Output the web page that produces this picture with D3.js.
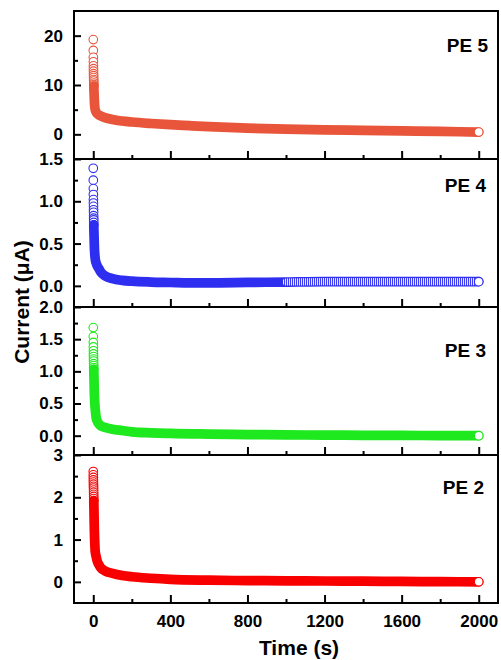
<!DOCTYPE html>
<html>
<head>
<meta charset="utf-8">
<script src="https://cdn.jsdelivr.net/npm/d3@7"></script>
<style>
    body { margin: 0; background: #fff; }
    svg { display: block; font-family: "Liberation Sans", Arial, sans-serif; font-weight: bold; }
</style>
</head>
<body>
<div id="chart"></div>
<script>
// DATA

// PE 5
const time_pe5 = [0, 0.2, 0.4, 0.6, 0.8, 1, 1.2, 1.4, 1.6, 1.8, 2, 2.2, 2.4, 2.6, 2.8,
    3, 4, 5, 6, 8, 10, 15, 20, 30, 40, 60, 100, 150, 200, 300, 400, 500, 600, 800, 1000, 1200, 1400, 1600, 1800, 2000];
const current_pe5 = [19.2, 17.0, 15.6, 14.7, 13.9, 13.3, 12.8, 12.3, 11.9, 11.5, 11.1, 10.8, 10.4, 10.1, 9.8,
    9.5, 8.5, 7.5, 6.5, 5.5, 5.0, 4.5, 4.2, 3.9, 3.7, 3.4, 3.0, 2.7, 2.5, 2.2, 1.95, 1.75, 1.55, 1.25, 1.05, 0.92, 0.8, 0.7, 0.58, 0.46];

// PE 4
const time_pe4 = [0, 0.2, 0.4, 0.6, 0.8, 1, 1.2, 1.4, 1.6, 1.8, 2, 2.2, 2.4, 2.6,
    3, 4, 5, 6, 8, 10, 15, 20, 30, 40, 60, 100, 150, 200, 300, 400, 500, 600, 800, 1000, 1200, 1400, 1600, 1800, 2000];
const current_pe4 = [1.39, 1.25, 1.15, 1.08, 1.02, 0.98, 0.94, 0.90, 0.87, 0.83, 0.80, 0.78, 0.75, 0.72,
    0.68, 0.6, 0.52, 0.45, 0.37, 0.32, 0.27, 0.24, 0.2, 0.16, 0.12, 0.085, 0.065, 0.055, 0.045, 0.04, 0.035, 0.035, 0.04, 0.045, 0.05, 0.05, 0.05, 0.05, 0.05];

// PE 3
const time_pe3 = [0, 0.2, 0.4, 0.6, 0.8, 1, 1.2, 1.4, 1.6, 1.8, 2, 2.2, 2.4,
    3, 4, 5, 6, 8, 10, 15, 20, 30, 40, 60, 100, 150, 200, 300, 400, 600, 800, 1000, 1200, 1400, 1600, 1800, 2000];
const current_pe3 = [1.68, 1.54, 1.45, 1.38, 1.32, 1.27, 1.23, 1.19, 1.16, 1.12, 1.09, 1.06, 1.03,
    0.98, 0.85, 0.72, 0.62, 0.5, 0.42, 0.28, 0.23, 0.18, 0.15, 0.13, 0.1, 0.08, 0.06, 0.045, 0.035, 0.025, 0.018, 0.012, 0.01, 0.006, 0.004, 0.002, 0.0];

// PE 2
const time_pe2 = [0, 0.2, 0.4, 0.6, 0.8, 1, 1.2, 1.4, 1.6, 1.8, 2, 2.2, 2.4, 2.6,
    3, 4, 5, 6, 8, 10, 15, 20, 30, 40, 60, 100, 150, 200, 300, 400, 600, 800, 1000, 1200, 1400, 1600, 1800, 2000];
const current_pe2 = [2.61, 2.53, 2.47, 2.41, 2.36, 2.31, 2.26, 2.22, 2.17, 2.12, 2.07, 2.02, 1.97, 1.92,
    1.85, 1.6, 1.35, 1.15, 0.9, 0.72, 0.6, 0.5, 0.4, 0.33, 0.26, 0.2, 0.15, 0.12, 0.085, 0.06, 0.04, 0.03, 0.025, 0.02, 0.015, 0.01, 0.005, 0.0];

// Tick values
const xTicks = [0, 400, 800, 1200, 1600, 2000];
const xMinorTicks = [200, 600, 1000, 1400, 1800];
const yTicks_pe5 = [0, 10, 20];
const yMinor_pe5 = [5, 15];
const yTicks_pe4 = [0, 0.5, 1.0, 1.5];
const yMinor_pe4 = [0.25, 0.75, 1.25];
const yTicks_pe3 = [0, 0.5, 1.0, 1.5, 2.0];
const yMinor_pe3 = [0.25, 0.75, 1.25, 1.75];
const yTicks_pe2 = [0, 1, 2, 3];
const yMinor_pe2 = [0.5, 1.5, 2.5];

const labels = ["PE 5", "PE 4", "PE 3", "PE 2"];


// SETTINGS

const WIDTH = 501;
const HEIGHT = 660;
const LEFT = 74;
const RIGHT = 498;
const TOP = 11;
const BOTTOM = 603;
const PANEL_H = (BOTTOM - TOP) / 4;
// Marker radius / stroke
const R = 4.3;
const SW = 1.1;

const panels = [
    { name: labels[0], t: time_pe5, v: current_pe5, color: "#e8553a", domain: [-5, 25], ticks: yTicks_pe5, minor: yMinor_pe5, fmt: d3.format("d"), stack: 15, lx: 488, ly: 41 },
    { name: labels[1], t: time_pe4, v: current_pe4, color: "#2e2ef0", domain: [-0.25, 1.5], ticks: yTicks_pe4, minor: yMinor_pe4, fmt: d3.format(".1f"), stack: 14, lx: 486, ly: 33, hatchFrom: 980 },
    { name: labels[2], t: time_pe3, v: current_pe3, color: "#1ee81e", domain: [-0.3, 2.0], ticks: yTicks_pe3, minor: yMinor_pe3, fmt: d3.format(".1f"), stack: 13, lx: 486, ly: 50 },
    { name: labels[3], t: time_pe2, v: current_pe2, color: "#f80000", domain: [-0.5, 3], ticks: yTicks_pe2, minor: yMinor_pe2, fmt: d3.format("d"), stack: 14, lx: 484, ly: 39 }
];

const svg = d3.select("#chart").append("svg")
    .attr("width", WIDTH)
    .attr("height", HEIGHT);

const defs = svg.append("defs");

// Hatch used where the PE 4 rings are spaced out
const hatch = defs.append("pattern")
    .attr("id", "hatch")
    .attr("patternUnits", "userSpaceOnUse")
    .attr("width", 2)
    .attr("height", 4);
hatch.append("rect").attr("width", 2).attr("height", 4).attr("fill", "#e6e6ff");
hatch.append("rect").attr("width", 1).attr("height", 4).attr("fill", "#3c3cf0");

const x = d3.scaleLinear().domain([-100, 2100]).range([LEFT, RIGHT]);

panels.forEach(function (p, i) {
    const top = TOP + i * PANEL_H;
    const bottom = top + PANEL_H;
    const y = d3.scaleLinear().domain(p.domain).range([bottom, top]);

    const pts = p.t.map(function (t, k) { return { t: t, v: p.v[k] }; });

    defs.append("clipPath").attr("id", "clip" + i)
        .append("rect")
        .attr("x", LEFT).attr("y", top)
        .attr("width", RIGHT - LEFT).attr("height", PANEL_H);

    const g = svg.append("g").attr("clip-path", "url(#clip" + i + ")");

    // First samples: separate rings stacked at t ~ 0
    g.selectAll("circle.stack")
        .data(pts.slice(0, p.stack))
        .enter().append("circle")
            .attr("class", "stack")
            .attr("cx", function (d) { return x(d.t); })
            .attr("cy", function (d) { return y(d.v); })
            .attr("r", R)
            .attr("fill", "#fff")
            .attr("stroke", p.color)
            .attr("stroke-width", SW);

    // Dense rings merge into a solid trail
    const line = d3.line()
        .x(function (d) { return x(d.t); })
        .y(function (d) { return y(d.v); })
        .curve(d3.curveMonotoneX);

    g.append("path")
        .datum(pts.slice(p.stack - 1))
        .attr("d", line)
        .attr("fill", "none")
        .attr("stroke", p.color)
        .attr("stroke-width", 2 * R + SW)
        .attr("stroke-linecap", "round")
        .attr("stroke-linejoin", "round");

    if (p.hatchFrom !== undefined) {
        g.append("path")
            .datum(pts.filter(function (d) { return d.t >= p.hatchFrom; }))
            .attr("d", line)
            .attr("fill", "none")
            .attr("stroke", "url(#hatch)")
            .attr("stroke-width", 2 * R - SW - 0.4)
            .attr("stroke-linecap", "round");
    }

    // Last point drawn on top
    g.append("circle")
        .datum(pts[pts.length - 1])
        .attr("cx", function (d) { return x(d.t); })
        .attr("cy", function (d) { return y(d.v); })
        .attr("r", R)
        .attr("fill", "#fff")
        .attr("stroke", p.color)
        .attr("stroke-width", SW);

    // Left axis (inward ticks)
    const yAxis = svg.append("g")
        .attr("transform", "translate(" + LEFT + ",0)")
        .call(d3.axisLeft(y).tickValues(p.ticks).tickFormat(p.fmt).tickSize(-7).tickPadding(11));
    const yMinorAxis = svg.append("g")
        .attr("transform", "translate(" + LEFT + ",0)")
        .call(d3.axisLeft(y).tickValues(p.minor).tickFormat("").tickSize(-4));

    // Bottom axis (inward ticks)
    const xAxis = svg.append("g")
        .attr("transform", "translate(0," + bottom + ")")
        .call(d3.axisBottom(x).tickValues(xTicks).tickSize(-8).tickPadding(12)
            .tickFormat(i === panels.length - 1 ? d3.format("d") : ""));
    const xMinorAxis = svg.append("g")
        .attr("transform", "translate(0," + bottom + ")")
        .call(d3.axisBottom(x).tickValues(xMinorTicks).tickSize(-4).tickFormat(""));

    [yAxis, yMinorAxis, xAxis, xMinorAxis].forEach(function (a) {
        a.select(".domain").remove();
        a.selectAll("line").attr("stroke", "#000").attr("stroke-width", 2);
        a.selectAll("text")
            .attr("fill", "#000")
            .style("font-size", "17px")
            .style("font-family", "'Liberation Sans', Arial, sans-serif")
            .style("font-weight", "bold");
    });

    // Frame of the panel
    svg.append("rect")
        .attr("x", LEFT).attr("y", top)
        .attr("width", RIGHT - LEFT).attr("height", PANEL_H)
        .attr("fill", "none")
        .attr("stroke", "#000")
        .attr("stroke-width", 2);

    // Panel label
    svg.append("text")
        .attr("x", p.lx)
        .attr("y", top + p.ly)
        .attr("text-anchor", "end")
        .style("font-size", "19px")
        .text(p.name);
});

// Axis titles
svg.append("text")
    .attr("x", 299)
    .attr("y", 655)
    .attr("text-anchor", "middle")
    .style("font-size", "21px")
    .text("Time (s)");

svg.append("text")
    .attr("transform", "translate(29,302) rotate(-90)")
    .attr("text-anchor", "middle")
    .style("font-size", "21px")
    .text("Current (μA)");
</script>
</body>
</html>
